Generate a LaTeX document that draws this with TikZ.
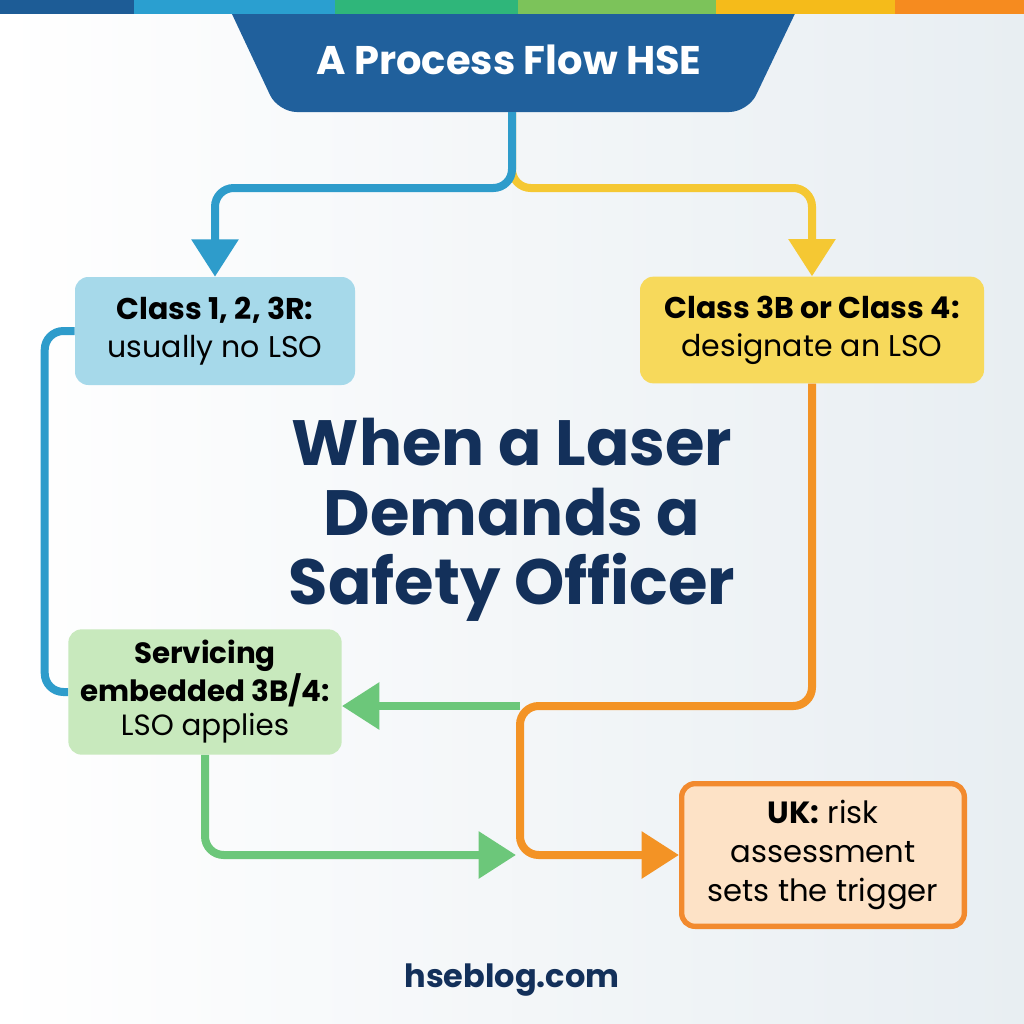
\documentclass[tikz,border=0pt]{standalone}
\usepackage{fontspec}
\setmainfont{Poppins}
\usetikzlibrary{arrows.meta}

\definecolor{barblue}{HTML}{1D5C96}
\definecolor{barcyan}{HTML}{2A9FD0}
\definecolor{barteal}{HTML}{2FB67A}
\definecolor{bargreen}{HTML}{7CC35A}
\definecolor{baryellow}{HTML}{F5BB1A}
\definecolor{barorange}{HTML}{F68B1F}
\definecolor{bannerblue}{HTML}{20609C}
\definecolor{bgblue}{HTML}{E8EEF2}
\definecolor{linkblue}{HTML}{2E9CCB}
\definecolor{linkyellow}{HTML}{F5C833}
\definecolor{linkorange}{HTML}{F39325}
\definecolor{linkgreen}{HTML}{6CC77A}
\definecolor{fillblue}{HTML}{A6D9EA}
\definecolor{fillyellow}{HTML}{F7D95B}
\definecolor{fillgreen}{HTML}{C8E9BD}
\definecolor{fillorange}{HTML}{FDE2C6}
\definecolor{edgeorange}{HTML}{F28A2E}
\definecolor{navy}{HTML}{13305A}

\tikzset{
  box/.style={rounded corners=10, align=center, inner sep=0pt,
    font=\fontsize{22.5}{28.5}\selectfont, text=black},
  link/.style={line width=6pt, rounded corners=14},
  tip/.style={-{Triangle[width=34pt,length=28pt]}}
}

\begin{document}
\begin{tikzpicture}[x=0.75pt,y=0.75pt,yscale=-1,xscale=1]
        \useasboundingbox (0,0) rectangle (1024,1024);
        % background and colour bar
        \shade[left color=white, right color=bgblue] (0,0) rectangle (1024,1024);
        \fill[bannerblue, rounded corners=14] (216,-20) -- (278,112) -- (748,112) -- (811,-20) -- cycle;
        \foreach \xa/\xb/\col in {0/134/barblue, 134/335/barcyan, 335/518/barteal, 518/716/bargreen, 716/895/baryellow, 895/1024/barorange}
            \fill[\col] (\xa,0) rectangle (\xb,14);
        \coordinate (foot) at (512,112);
        \coordinate (fork) at (512,188);
        \coordinate (merge) at (520,706);
        \coordinate (join) at (516,855);

        \node (head) at (509,60) [text=white, font=\bfseries\fontsize{30}{32}\selectfont] {A Process Flow HSE};

        \node (cls12) at (215,331) [box, fill=fillblue, minimum width=210pt, minimum height=81pt]
            {\textbf{Class 1, 2, 3R:}\\usually no LSO};
        \node (cls3b) at (812,330) [box, fill=fillyellow, minimum width=258pt, minimum height=80pt]
            {\textbf{Class 3B or Class 4:}\\designate an LSO};
        \node (svc) at (205,692) [box, fill=fillgreen, minimum width=205pt, minimum height=94pt,
            font=\fontsize{22}{26}\selectfont]
            {\textbf{Servicing}\\\textbf{embedded 3B/4:}\\LSO applies};
        \node (uk) at (823,855) [box, fill=fillorange, draw=edgeorange, line width=4pt, minimum width=212pt, minimum height=107pt,
            font=\fontsize{23}{29}\selectfont]
            {\textbf{UK:} risk\\assessment\\sets the trigger};

        \node (title) at (512,520) [align=center, text=navy, font=\bfseries\fontsize{48}{52}\selectfont]
            {When a Laser\\Demands a\\Safety Officer};
        \node (site) at (512,980) [text=navy, font=\bfseries\fontsize{24}{28}\selectfont] {hseblog.com};

        % connectors
        \draw[link, linkyellow, tip] (foot) -- (fork) -| (cls3b.north);
        \draw[link, linkblue, tip] (foot) -- (fork) -| (cls12.north);
        \draw[link, linkblue] (cls12.west) -- ++(-30,0) |- (svc.west);
        \draw[link, linkgreen, tip] (merge) -- (svc.east |- merge);
        \draw[link, linkgreen, tip] (svc.south) |- (join);
        \draw[link, linkorange, tip] (cls3b.south) |- (merge) |- (uk.west);
\end{tikzpicture}
\end{document}
